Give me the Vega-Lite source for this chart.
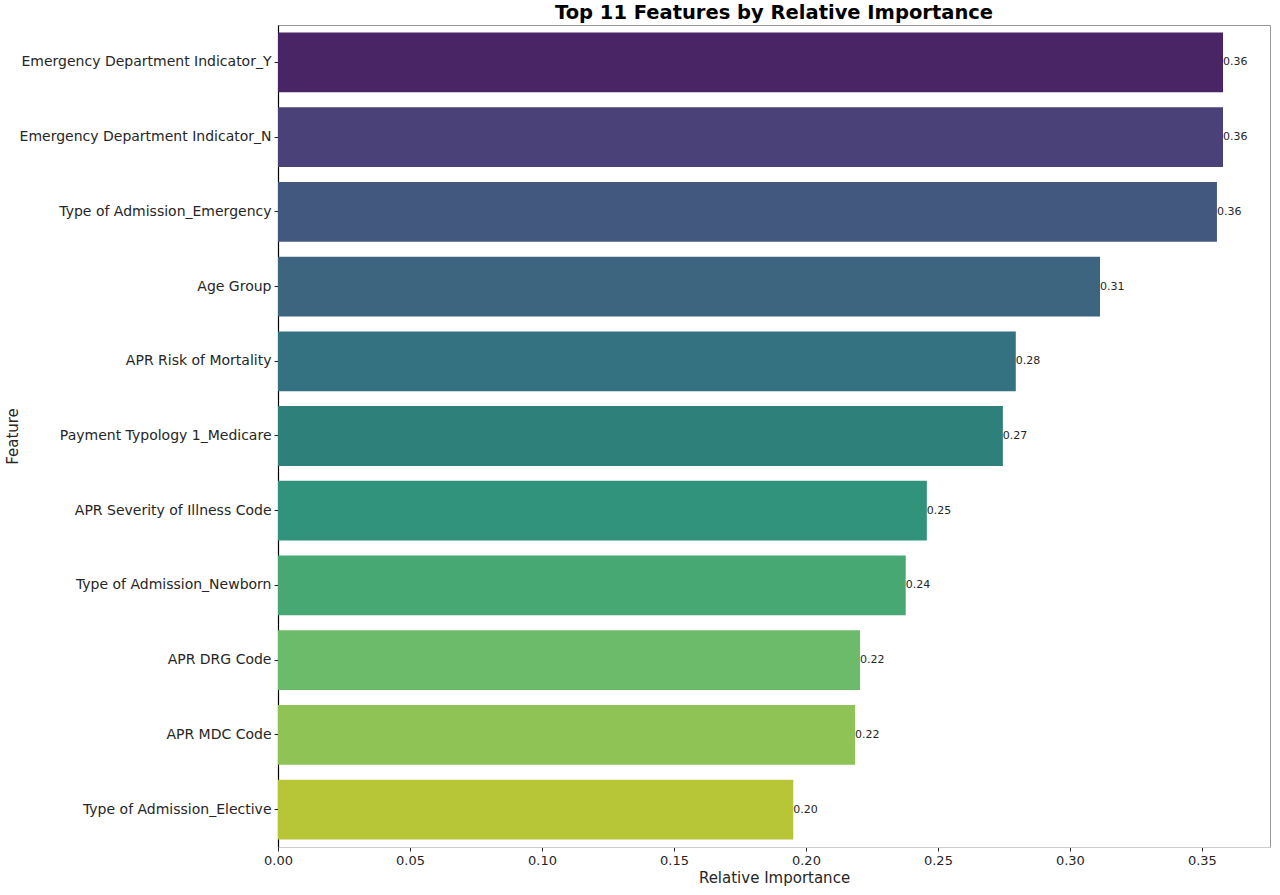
{
  "$schema": "https://vega.github.io/schema/vega-lite/v6.json",
  "description": "Top 11 features by relative importance, horizontal bar chart.",
  "autosize": {"type": "none"},
  "padding": {"left": 278, "top": 25, "right": 10, "bottom": 48},
  "width": 992,
  "height": 822,
  "background": "white",
  "title": {
    "text": "Top 11 Features by Relative Importance",
    "font": "DejaVu Sans",
    "fontSize": 19.5,
    "fontWeight": "bold",
    "color": "#000000",
    "anchor": "middle",
    "offset": 2
  },
  "data": {
    "values": [
      {"Feature": "Emergency Department Indicator_Y", "Importance": 0.358},
      {"Feature": "Emergency Department Indicator_N", "Importance": 0.358},
      {"Feature": "Type of Admission_Emergency", "Importance": 0.3557},
      {"Feature": "Age Group", "Importance": 0.3114},
      {"Feature": "APR Risk of Mortality", "Importance": 0.2795},
      {"Feature": "Payment Typology 1_Medicare", "Importance": 0.2746},
      {"Feature": "APR Severity of Illness Code", "Importance": 0.2458},
      {"Feature": "Type of Admission_Newborn", "Importance": 0.2378},
      {"Feature": "APR DRG Code", "Importance": 0.2205},
      {"Feature": "APR MDC Code", "Importance": 0.2186},
      {"Feature": "Type of Admission_Elective", "Importance": 0.1952}
    ]
  },
  "encoding": {
    "y": {
      "field": "Feature",
      "type": "nominal",
      "sort": null,
      "title": "Feature",
      "scale": {"paddingInner": 0.2, "paddingOuter": 0.1},
      "axis": {
        "labelFont": "DejaVu Sans",
        "labelFontSize": 14,
        "labelColor": "#262626",
        "labelPadding": 3,
        "labelLimit": 400,
        "tickColor": "#262626",
        "tickSize": 4,
        "domainColor": "#000000",
        "domainWidth": 1.2,
        "titleFont": "DejaVu Sans",
        "titleFontSize": 15,
        "titleFontWeight": "normal",
        "titleColor": "#262626",
        "titleX": -266,
        "titleY": 411,
        "titleAngle": -90,
        "titleAlign": "center",
        "titleBaseline": "middle"
      }
    },
    "x": {
      "field": "Importance",
      "type": "quantitative",
      "title": "Relative Importance",
      "scale": {"domain": [0, 0.3758], "nice": false},
      "axis": {
        "values": [0, 0.05, 0.1, 0.15, 0.2, 0.25, 0.3, 0.35],
        "format": ".2f",
        "grid": false,
        "labelFlush": false,
        "labelFont": "DejaVu Sans",
        "labelFontSize": 13,
        "labelColor": "#262626",
        "labelPadding": 3,
        "tickColor": "#262626",
        "tickSize": 4,
        "domainColor": "#cccccc",
        "titleFont": "DejaVu Sans",
        "titleFontSize": 15,
        "titleFontWeight": "normal",
        "titleColor": "#262626",
        "titlePadding": 3
      }
    }
  },
  "layer": [
    {
      "mark": {"type": "bar"},
      "encoding": {
        "color": {
          "field": "Feature",
          "type": "nominal",
          "legend": null,
          "scale": {
            "domain": [
              "Emergency Department Indicator_Y",
              "Emergency Department Indicator_N",
              "Type of Admission_Emergency",
              "Age Group",
              "APR Risk of Mortality",
              "Payment Typology 1_Medicare",
              "APR Severity of Illness Code",
              "Type of Admission_Newborn",
              "APR DRG Code",
              "APR MDC Code",
              "Type of Admission_Elective"
            ],
            "range": [
              "#4a2566",
              "#4a4178",
              "#43587f",
              "#3d6580",
              "#357281",
              "#2e817a",
              "#31937b",
              "#48a874",
              "#6cbb6a",
              "#8fc355",
              "#b6c636"
            ]
          }
        }
      }
    },
    {
      "mark": {
        "type": "text",
        "align": "left",
        "baseline": "middle",
        "dx": 0,
        "font": "DejaVu Sans",
        "fontSize": 11,
        "color": "#262626"
      },
      "encoding": {
        "text": {"field": "Importance", "type": "quantitative", "format": ".2f"}
      }
    }
  ],
  "config": {
    "view": {"stroke": "#999999", "strokeWidth": 1}
  }
}
